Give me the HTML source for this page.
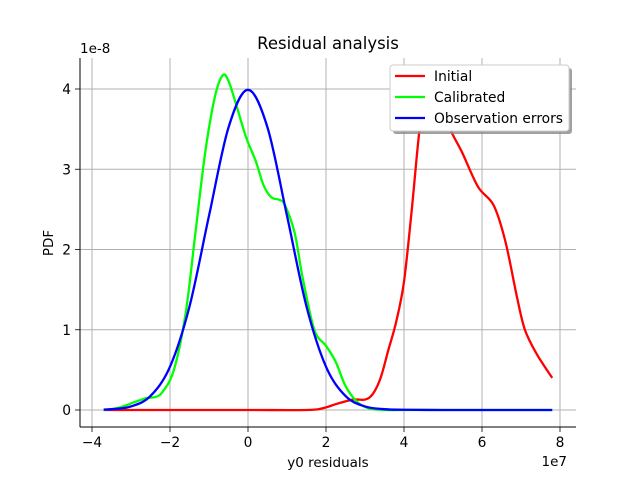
<!DOCTYPE html>
<html><head><meta charset="utf-8"><style>
body{margin:0;background:#fff}
svg{display:block;font-family:"DejaVu Sans","Liberation Sans",sans-serif}
</style></head><body>
<svg id="chart" width="640" height="480" viewBox="0 0 640 480" xmlns="http://www.w3.org/2000/svg">
<rect width="640" height="480" fill="#fff"/>
<g id="grid"></g>
<g id="series"></g>
<g id="axes"></g>
<text x="328" y="49" font-size="16.5" text-anchor="middle">Residual analysis</text>
<text x="328" y="467" font-size="13.5" text-anchor="middle">y0 residuals</text>
<text x="53" y="243" font-size="13.5" text-anchor="middle" transform="rotate(-90 53 243)">PDF</text>
<text x="80" y="53" font-size="13.5">1e-8</text>
<text x="567" y="466" font-size="13.5" text-anchor="end">1e7</text>
<g>
<rect x="393" y="68" width="179" height="66" rx="3" fill="#888" opacity="0.8"/>
<rect x="390" y="65" width="179" height="66" rx="3" fill="#fff" stroke="#ccc"/>
<g><line x1="395" y1="76" x2="425" y2="76" stroke="#f00" stroke-width="2.2"/><text x="434" y="81" font-size="13.8">Initial</text></g>
<g><line x1="395" y1="97" x2="425" y2="97" stroke="#0f0" stroke-width="2.2"/><text x="434" y="102" font-size="13.8">Calibrated</text></g>
<g><line x1="395" y1="118" x2="425" y2="118" stroke="#00f" stroke-width="2.2"/><text x="434" y="123" font-size="13.8">Observation errors</text></g>
</g>
</svg>
<script>
const xTicks=[-4,-2,0,2,4,6,8];
const yTicks=[0,1,2,3,4];
const initialX=[-3.7,-2,0,1.5,1.9,2.3,2.7,3.0,3.2,3.4,3.6,3.8,4.0,4.2,4.4,4.6,4.8,5.1,5.5,5.9,6.3,6.6,6.9,7.1,7.4,7.8];
const initialY=[0,0,0,0,0.02,0.08,0.13,0.13,0.2,0.4,0.75,1.1,1.6,2.5,3.5,4.1,4.2,3.6,3.2,2.78,2.55,2.1,1.4,1.0,0.7,0.4];
const calX=[-3.7,-3.3,-2.9,-2.6,-2.4,-2.2,-1.9,-1.6,-1.35,-1.1,-0.85,-0.65,-0.5,-0.3,-0.05,0.2,0.4,0.6,0.8,0.95,1.2,1.4,1.7,2.0,2.25,2.5,2.8,3.1,3.5,4,6,7.8];
const calY=[0,0.03,0.1,0.15,0.16,0.22,0.5,1.2,2.2,3.2,3.9,4.17,4.1,3.8,3.4,3.1,2.8,2.65,2.62,2.55,2.2,1.65,1.0,0.8,0.6,0.3,0.1,0.02,0,0,0,0];
const obsX=[-3.7,-3.5,-3,-2.5,-2,-1.5,-1,-0.5,0,0.5,1,1.5,2,2.5,3,3.5,4,5,6,7.8];
const obsY=[0.005,0.01,0.044,0.175,0.54,1.29,2.42,3.52,3.99,3.52,2.42,1.29,0.54,0.175,0.044,0.01,0.003,0,0,0];
const X=v=>248+39*v, Y=v=>410-80.25*v;
const NS='http://www.w3.org/2000/svg';
const grid=document.getElementById('grid'),axes=document.getElementById('axes'),series=document.getElementById('series');
function mk(tag,attrs,parent){const e=document.createElementNS(NS,tag);for(const k in attrs)e.setAttribute(k,attrs[k]);parent.appendChild(e);return e;}
xTicks.forEach(t=>{
 const g=mk('line',{x1:X(t),x2:X(t),y1:58,y2:427,stroke:'#b0b0b0','stroke-width':1},grid);
 
 
 const tk=mk('line',{x1:X(t),x2:X(t),y1:427,y2:432,stroke:'#000','stroke-width':0.8},axes);
 
 
 const lb=mk('text',{x:X(t),y:447,'font-size':13.8,'text-anchor':'middle'},axes);
 lb.textContent=(t<0?'\u2212'+(-t):t);
 
 
});
yTicks.forEach(t=>{
 const g=mk('line',{x1:80,x2:576,y1:Y(t),y2:Y(t),stroke:'#b0b0b0','stroke-width':1},grid);
 
 
 const tk=mk('line',{x1:75,x2:80,y1:Y(t),y2:Y(t),stroke:'#000','stroke-width':0.8},axes);
 
 
 const lb=mk('text',{x:71,y:Y(t)+5,'font-size':13.8,'text-anchor':'end'},axes);
 lb.textContent=t;
 
 
});
const ls=mk('line',{x1:80,x2:80,y1:58,y2:427,stroke:'#000','stroke-width':1},axes);


const bs=mk('line',{x1:80,x2:576,y1:427,y2:427,stroke:'#000','stroke-width':1},axes);


function smooth(xs,ys){
 const p=xs.map((x,i)=>[X(x),Y(ys[i])]);
 let d='M'+p[0][0]+','+p[0][1];
 for(let i=0;i<p.length-1;i++){
  const p0=p[i-1]||p[i],p1=p[i],p2=p[i+1],p3=p[i+2]||p2;
  const c1=[p1[0]+(p2[0]-p0[0])/6,p1[1]+(p2[1]-p0[1])/6];
  const c2=[p2[0]-(p3[0]-p1[0])/6,p2[1]-(p3[1]-p1[1])/6];
  d+=` C${c1[0]},${c1[1]} ${c2[0]},${c2[1]} ${p2[0]},${p2[1]}`;
 }
 return d;
}
const s1=mk('path',{d:smooth(initialX,initialY),fill:'none',stroke:'#f00','stroke-width':2.3},series);


const s2=mk('path',{d:smooth(calX,calY),fill:'none',stroke:'#0f0','stroke-width':2.3},series);


const s3=mk('path',{d:smooth(obsX,obsY),fill:'none',stroke:'#00f','stroke-width':2.3},series);


</script>
</body></html>
